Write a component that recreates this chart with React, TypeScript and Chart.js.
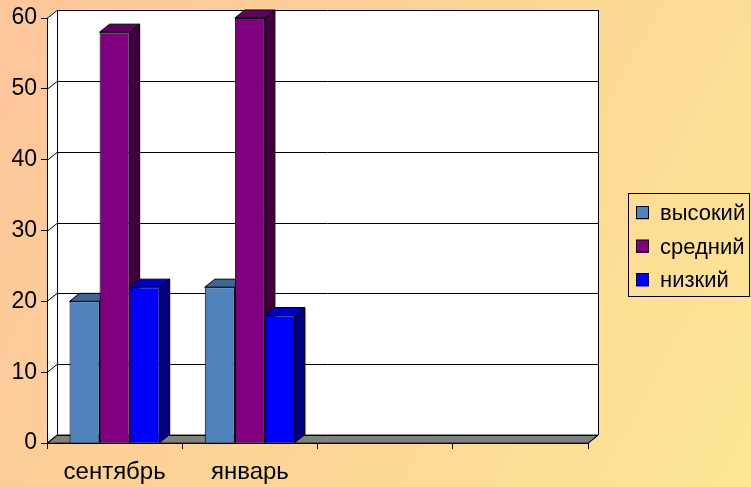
import React, { useEffect, useRef } from 'react';
import { Chart, registerables } from 'chart.js';

Chart.register(...registerables);

const categories = ['сентябрь', 'январь', '', ''];
const seriesLabels = ['высокий', 'средний', 'низкий'];
const highValues = [20, 22, null, null];
const midValues = [58, 60, null, null];
const lowValues = [22, 18, null, null];
const yMin = 0;
const yMax = 60;
const yStep = 10;

const frontColors = ['#4F81BD', '#800080', '#0000FF'];
const topColors = ['#3E6594', '#600060', '#0000C0'];
const sideColors = ['#2F4D72', '#400040', '#000080'];

const FONT = "'Liberation Sans', Arial, sans-serif";
const DX = 10;
const DY = -8;

const scenePlugin = {
  id: 'scene3d',
  beforeDraw(chart: any) {
    const { ctx, chartArea, width, height } = chart;
    const { left, right, top, bottom } = chartArea;
    ctx.save();
    const g = ctx.createLinearGradient(0, 80, width, height);
    g.addColorStop(0, '#FDC69B');
    g.addColorStop(0.5, '#FCD696');
    g.addColorStop(1, '#FDE695');
    ctx.fillStyle = g;
    ctx.fillRect(0, 0, width, height);

    ctx.lineWidth = 1;
    ctx.strokeStyle = '#000';
    ctx.fillStyle = '#FFFFFF';
    ctx.fillRect(left + DX, top + DY, right - left, bottom - top);
    ctx.beginPath();
    ctx.moveTo(left, top);
    ctx.lineTo(left + DX, top + DY);
    ctx.lineTo(left + DX, bottom + DY);
    ctx.lineTo(left, bottom);
    ctx.closePath();
    ctx.fill();
    ctx.beginPath();
    ctx.moveTo(left, bottom);
    ctx.lineTo(right, bottom);
    ctx.lineTo(right + DX, bottom + DY);
    ctx.lineTo(left + DX, bottom + DY);
    ctx.closePath();
    ctx.fillStyle = '#808080';
    ctx.fill();
    ctx.strokeStyle = '#222';
    ctx.stroke();

    const yScale = chart.scales.y;
    ctx.strokeStyle = '#000';
    for (let v = yMin; v <= yMax; v += yStep) {
      const py = Math.round(yScale.getPixelForValue(v)) + 0.5;
      ctx.beginPath();
      ctx.moveTo(left, py);
      ctx.lineTo(left + DX, py + DY);
      ctx.lineTo(right + DX, py + DY);
      ctx.stroke();
    }
    ctx.beginPath();
    ctx.moveTo(left + DX + 0.5, top + DY);
    ctx.lineTo(left + DX + 0.5, bottom + DY);
    ctx.moveTo(right + DX + 0.5, top + DY);
    ctx.lineTo(right + DX + 0.5, bottom + DY);
    ctx.lineTo(right + 0.5, bottom);
    ctx.stroke();
    ctx.restore();
  },
  beforeDatasetsDraw(chart: any) {
    const { ctx } = chart;
    ctx.save();
    ctx.lineWidth = 1;
    ctx.strokeStyle = '#000';
    chart.data.datasets.forEach((ds: any, di: number) => {
      const meta = chart.getDatasetMeta(di);
      meta.data.forEach((el: any, i: number) => {
        if (ds.data[i] == null) return;
        const p = el.getProps(['x', 'y', 'base', 'width'], true);
        const l = p.x - p.width / 2;
        const r = p.x + p.width / 2;
        const t = p.y;
        const b = p.base;
        ctx.beginPath();
        ctx.moveTo(r, t);
        ctx.lineTo(r + DX, t + DY);
        ctx.lineTo(r + DX, b + DY);
        ctx.lineTo(r, b);
        ctx.closePath();
        ctx.fillStyle = sideColors[di];
        ctx.fill();
        ctx.stroke();
        ctx.beginPath();
        ctx.moveTo(l, t);
        ctx.lineTo(r, t);
        ctx.lineTo(r + DX, t + DY);
        ctx.lineTo(l + DX, t + DY);
        ctx.closePath();
        ctx.fillStyle = topColors[di];
        ctx.fill();
        ctx.stroke();
      });
    });
    ctx.restore();
  },
  afterDraw(chart: any) {
    const { ctx } = chart;
    ctx.save();
    const bx = 628.5, by = 193.5, bw = 121, bh = 103;
    ctx.strokeStyle = '#000';
    ctx.lineWidth = 1;
    ctx.strokeRect(bx, by, bw, bh);
    ctx.font = `22px ${FONT}`;
    ctx.textBaseline = 'middle';
    ctx.textAlign = 'left';
    chart.data.datasets.forEach((ds: any, di: number) => {
      const cy = 213 + di * 33.5;
      ctx.fillStyle = frontColors[di];
      ctx.fillRect(636, cy - 6.5, 13, 13);
      ctx.strokeRect(636.5, cy - 6.5, 12, 12);
      ctx.fillStyle = '#000';
      ctx.fillText(ds.label, 660, cy + 1);
    });
    ctx.restore();
  },
};

export default function App() {
  const ref = useRef<HTMLCanvasElement>(null);
  useEffect(() => {
    const canvas = ref.current!;
    const values = [highValues, midValues, lowValues];
    const chart = new Chart(canvas, {
      type: 'bar',
      data: {
        labels: categories,
        datasets: seriesLabels.map((label, i) => ({
          label,
          data: values[i],
          backgroundColor: frontColors[i],
          borderColor: '#000',
          borderWidth: 1,
          categoryPercentage: 0.667,
          barPercentage: 1,
        })),
      },
      options: {
        animation: false,
        responsive: false,
        devicePixelRatio: 1,
        layout: { padding: { top: 18, right: 163, left: 0, bottom: 0 } },
        plugins: { legend: { display: false }, tooltip: { enabled: false } },
        scales: {
          x: {
            offset: true,
            grid: { drawOnChartArea: false, tickLength: 6, color: '#000', offset: true },
            border: { color: '#000', width: 1 },
            ticks: {
              font: { family: FONT, size: 24 },
              color: '#000',
              padding: 9,
              maxRotation: 0,
              autoSkip: false,
            },
            afterFit: (s: any) => { s.height = 44; },
          },
          y: {
            min: yMin,
            max: yMax,
            grid: { drawOnChartArea: false, tickLength: 6, color: '#000' },
            border: { color: '#000', width: 1 },
            ticks: {
              stepSize: yStep,
              font: { family: FONT, size: 23 },
              color: '#000',
              padding: 4,
            },
            afterFit: (s: any) => { s.width = 47; },
          },
        },
      },
      plugins: [scenePlugin],
    });
    return () => chart.destroy();
  }, []);
  return (
    <div style={{ position: 'fixed', left: 0, top: 0, width: 751, height: 487 }}>
      <canvas ref={ref} width={751} height={487} style={{ display: 'block' }} />
    </div>
  );
}
